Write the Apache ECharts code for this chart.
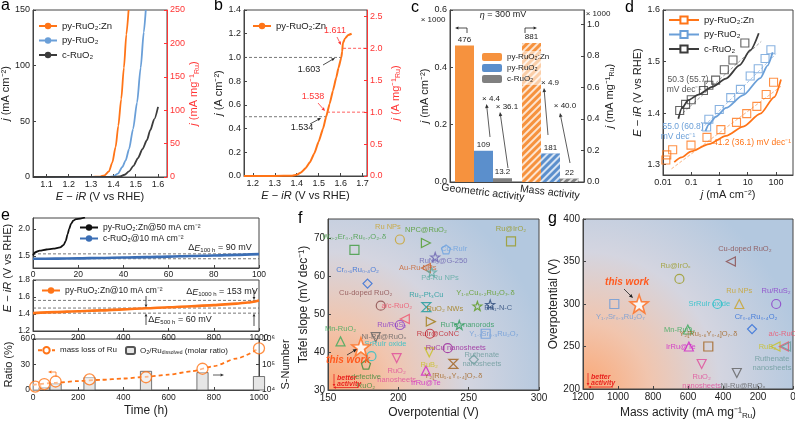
<!DOCTYPE html>
<html>
<head>
<meta charset="utf-8">
<title>py-RuO2:Zn OER figure</title>
<script src="https://cdn.jsdelivr.net/npm/echarts@6.0.0/dist/echarts.min.js"></script>
<style>
  html, body { margin: 0; padding: 0; background: #fff; }
  #chart { width: 795px; height: 423px; }
</style>
</head>
<body>
<div id="chart"></div>
<script>
// ---------------- data ----------------

// a: LSV curves, E - iR (V vs RHE) vs j (mA cm-2)
const aZnE = [1.04, 1.30, 1.34, 1.36, 1.38, 1.395, 1.41, 1.422, 1.435, 1.447, 1.458, 1.468];
const aZnJ = [0, 0.1, 0.4, 1.5, 5, 13, 27, 46, 70, 98, 128, 150];
const aPyE = [1.04, 1.38, 1.40, 1.42, 1.44, 1.455, 1.47, 1.488, 1.506, 1.522, 1.536, 1.545];
const aPyJ = [0, 0.1, 0.5, 3, 9, 15, 25, 43, 67, 98, 130, 150];
const aCE = [1.04, 1.40, 1.43, 1.45, 1.47, 1.49, 1.51, 1.53, 1.55, 1.565, 1.583, 1.60];
const aCJ = [0, 0.05, 0.5, 2, 5, 10, 17, 25, 33, 42, 52, 63];

// b: high current LSV of py-RuO2:Zn, j in A cm-2
const bE = [1.16, 1.30, 1.38, 1.40, 1.42, 1.44, 1.46, 1.48, 1.50, 1.52, 1.534, 1.55, 1.565, 1.58, 1.59, 1.603, 1.607, 1.61, 1.62, 1.635, 1.65];
const bJ = [0, 0, 0.003, 0.01, 0.03, 0.065, 0.115, 0.19, 0.29, 0.40, 0.5, 0.61, 0.72, 0.83, 0.91, 1.0, 1.05, 1.12, 1.16, 1.19, 1.2];
const bMarks = ['1.611', '1.603', '1.538', '1.534'];

// c: activity at eta = 300 mV (x1000)
const cGroups = ['Geometric activity', 'Mass activity'];
const cCatalysts = ['py-RuO₂:Zn', 'py-RuO₂', 'c-RuO₂'];
const cGeo = [476, 109, 13.2];
const cMass = [881, 181, 22];
const cFold = ['× 4.4', '× 36.1', '× 4.9', '× 40.0'];

// d: Tafel plots, j (mA cm-2) vs E
const dZnJ = [0.0126, 0.0136, 0.022, 0.098, 0.36, 1.12, 4.0, 9.2, 21, 45, 82];
const dZnE = [1.309, 1.319, 1.329, 1.338, 1.353, 1.368, 1.382, 1.399, 1.413, 1.436, 1.46];
const dPyJ = [0.35, 0.42, 0.98, 2.5, 5.5, 12.2, 23.5, 41, 66];
const dPyE = [1.373, 1.388, 1.407, 1.430, 1.446, 1.472, 1.486, 1.506, 1.523];
const dCJ = [0.039, 0.063, 0.10, 0.27, 0.42, 0.73, 1.48, 3.0, 7.9];
const dCE = [1.405, 1.417, 1.426, 1.444, 1.454, 1.464, 1.484, 1.503, 1.536];
const dZnFitJ = [0.025, 0.045, 0.1, 0.42, 1.7, 6.9, 28, 87, 150];
const dZnFitE = [1.305, 1.314, 1.326, 1.340, 1.356, 1.374, 1.399, 1.431, 1.465];
const dPyFitJ = [0.32, 0.42, 0.74, 1.7, 6.9, 28, 50, 76];
const dPyFitE = [1.365, 1.378, 1.393, 1.41, 1.435, 1.468, 1.492, 1.518];
const dCFitJ = [0.035, 0.047, 0.078, 0.18, 0.55, 1.7, 5.2, 12.3, 24.5];
const dCFitE = [1.389, 1.41, 1.425, 1.436, 1.451, 1.467, 1.493, 1.522, 1.555];
const dZnTafJ = [0.02, 150], dZnTafE = [1.292, 1.452];
const dPyTafJ = [0.3, 100], dPyTafE = [1.376, 1.515];
const dCTafJ = [0.05, 30], dCTafE = [1.40, 1.539];
const dSlopes = ['50.3 (55.7)', '55.0 (60.8)', '41.2 (36.1)'];

// e: stability, time (h) vs E
const e1ZnT = [0, 1, 3, 6, 9, 12, 13.5, 14.5, 15.3, 16, 16.8, 17.8, 19, 21, 23];
const e1ZnE = [1.51, 1.57, 1.60, 1.62, 1.635, 1.66, 1.70, 1.78, 1.90, 2.0, 2.09, 2.15, 2.18, 2.19, 2.21];
const e1CT = [0, 10, 20, 30, 40, 50, 60, 70, 80, 90, 100];
const e1CE = [1.45, 1.452, 1.458, 1.465, 1.472, 1.48, 1.49, 1.50, 1.51, 1.522, 1.535];
const e1Guides = [1.45, 1.54];
const e2T = [0, 100, 200, 300, 400, 500, 600, 700, 800, 900, 950, 1000];
const e2E = [1.41, 1.422, 1.433, 1.443, 1.455, 1.468, 1.48, 1.492, 1.505, 1.522, 1.535, 1.56];
const e2Guides = [1.41, 1.47, 1.56];
// e bottom: Ru mass loss (%) and S-number
const e3CircT = [10, 50, 100, 250, 500, 750, 1000];
const e3CircR = [4, 7, 10, 12.5, 15, 25, 49];
const e3FitT = [0, 100, 200, 300, 400, 500, 600, 700, 800, 900, 1000];
const e3FitR = [6, 8.5, 10.5, 12, 13.5, 15.5, 18, 22, 28, 37, 49];
const e3BarT = [50, 100, 250, 500, 750, 1000];
const e3BarS = [12600, 18000, 31600, 56000, 50000, 35000];

// f: Tafel slope vs overpotential (literature)
const fNames = ['Ru NPs', 'W₀.₂Er₀.₁Ru₀.₇O₂₋δ', 'NPC@RuO₂', 'Ru@IrO₂', 'Co-RuIr', 'RuNi₂@G-250', 'Au-Ru NPs', 'Pd-Ru NPs',
  'Cr₀.₆Ru₀.₄O₂', 'Cu-doped RuO₂', 'Ru₁-Pt₃Cu', 'Y₁.₈Cu₀.₂Ru₂O₇₋δ', 'Ru₁-N-C', 'a/c-RuO₂', 'Ru/RuS₂', 'RuO₂ NWs',
  'RuTe₂ nanorods', 'Mn-RuO₂', 'Ni-Ru@RuOₓ', 'RuIr@CoNC', 'Y₁.₇Sr₀.₃Ru₂O₇', 'SrRuIr oxide', 'RuO₂\nnanosheets', 'RuB₂',
  'RuCu nanosheets', 'Ruthenate\nnanosheets', 'Y₂[Ru₁.₆Y₀.₄]O₇₋δ', 'defective\nRuO₂', 'IrRu@Te'];
const fEta = [201.1, 168.8, 219.6, 280.1, 233.9, 226.2, 219.6, 223.8, 178.1, 187.5, 219.9, 256.2, 265.3, 204.6, 201.1, 223.1,
  243.3, 158.9, 183.9, 222.4, 262.1, 180.9, 198.8, 222.0, 235.1, 253.6, 239.1, 177.0, 219.6];
const fTafel = [69.6, 66.9, 68.7, 69.1, 67.0, 65.0, 62.1, 61.0, 58.0, 52.2, 51.8, 52.1, 52.5, 48.7, 47.1, 48.0,
  47.1, 42.8, 43.9, 44.8, 44.8, 38.9, 38.4, 39.9, 41.0, 38.0, 36.9, 36.7, 35.1];
const fThisWork = [173.4, 41.3];

// g: overpotential vs mass activity (literature)
const gNames = ['Cu-doped RuO₂', 'Ru@IrOₓ', 'Y₁.₇Sr₀.₃Ru₂O₇', 'SrRuIr oxide', 'Ru NPs', 'Ru/RuS₂', 'Mn-RuO₂', 'Cr₀.₆Ru₀.₄O₂',
  'Y₂[Ru₁.₆Y₀.₄]O₇₋δ', 'IrRu@Te', 'RuB₂', 'a/c-RuO₂', 'Ruthenate\nnanosheets', 'RuO₂\nnanosheets', 'Ni-Ru@RuOₓ'];
const gMass = [355, 649, 1021, 432, 307, 96, 601, 234, 484, 595, 100, 52, 40, 522, 321];
const gEta = [350, 329.5, 300, 300, 300, 300, 270, 270.5, 250, 250, 250, 250, 250, 229.4, 218.8];
const gThisWork = [879, 300];

// ---------------- styles ----------------
const FONT = '"Liberation Sans", Arial, Helvetica, sans-serif';
const ORANGE = '#ff7417', BLUE = '#6a9fd8', DARK = '#3c3c3c', RED = '#ff3535';
const C_OR = '#f6923e', C_BL = '#5b8fcc', C_GR = '#808080';

const STAR = 'path://M0,-10L2.4,-3.3L9.5,-3.1L3.8,1.3L5.9,8.1L0,4.1L-5.9,8.1L-3.8,1.3L-9.5,-3.1L-2.4,-3.3Z';
const PENT = 'path://M0,-10L9.5,-3.1L5.9,8.1L-5.9,8.1L-9.5,-3.1Z';
const HOUR = 'path://M-8,-8L8,-8L-8,8L8,8Z';
const SYM = { c: 'circle', s: 'rect', t: 'triangle', r: 'triangle', l: 'triangle', v: 'triangle', d: 'diamond', p: PENT, S: STAR, h: HOUR };
const ROT = { r: -90, l: 90, v: 180 };

const fSym = ['c', 's', 'r', 's', 'p', 'S', 'l', 'S', 'd', 'c', 'h', 'S', 'S', 'l', 'c', 'r', 'S', 't', 'v', 'c', 's', 'c', 'v', 'v', 'c', 'd', 'h', 'p', 't'];
const fCol = ['#c9a227', '#3c9a3c', '#4c9a24', '#9a9a20', '#6aa0e0', '#6a62b0', '#c8602a', '#5aaaa0', '#2a6ad8', '#8a4a4a',
  '#1a9a9a', '#5a9a1a', '#2a4a7a', '#f0506a', '#8a3ac8', '#a07a10', '#2a9a5a', '#3aaa5a', '#606060', '#c0202a',
  '#6a9ad8', '#20c0c8', '#e04a9a', '#c8c020', '#9a209a', '#6a9a9a', '#a0601a', '#3a8a3a', '#d020c8'];
const fPos = ['top', 'top', 'top', 'top', 'right', 'right', 'left', 'right', 'top', 'top', 'top', 'top', 'right', 'top', 'left', 'top',
  'right', 'top', 'right', 'right', 'right', 'top', 'bottom', 'bottom', 'right', 'right', 'bottom', 'bottom', 'bottom'];
const fOff = { 0: [-12, 0], 5: [0, 4], 7: [0, 6], 8: [-10, -1], 9: [-15, 0], 11: [8, 0], 12: [0, 3], 13: [-8, 0], 15: [14, 0], 21: [14, 0] };

const gSym = ['l', 'c', 's', 'c', 't', 'c', 't', 'd', 's', 't', 'l', 'l', 'l', 'v', 'v'];
const gCol = ['#8a4a4a', '#9a9a20', '#6a9ad8', '#20c0c8', '#c9a227', '#8a3ac8', '#3aaa5a', '#2a6ad8', '#a0601a', '#d020c8',
  '#c8c020', '#f0506a', '#6a9a9a', '#e04a9a', '#606060'];
const gPos = ['top', 'top', 'bottom', 'left', 'top', 'top', 'left', 'top', 'top', 'left', 'left', 'top', 'bottom', 'bottom', 'bottom'];
const gOff = { 0: [14, 0], 1: [-4, 0], 2: [6, 0], 7: [4, 0], 12: [-14, 0], 14: [6, 0] };

function rich(size, color) {
  return {
    n: { fontSize: size, fontFamily: FONT, color: color, fill: color },
    i: { fontSize: size, fontFamily: FONT, fontStyle: 'italic', color: color, fill: color },
    s: { fontSize: Math.round(size * 0.65), fontFamily: FONT, color: color, fill: color, padding: [Math.round(size * 0.5), 0, 0, 0] }
  };
}
const zip = (xs, ys) => xs.map((x, i) => [x, ys[i]]);
const fx1 = v => (+v).toFixed(1);
const plain = v => String(Math.round(v * 1000) / 1000);

function axis(grid, o) {
  const lc = o.lineColor || '#444';
  const tc = o.textColor || '#222';
  const ax = {
    type: o.type || 'value', gridIndex: grid, min: o.min, max: o.max, inverse: !!o.inverse,
    axisLine: { show: true, onZero: false, lineStyle: { color: lc, width: 1 } },
    axisTick: { show: o.ticks !== false, inside: true, length: 3, lineStyle: { color: lc } },
    axisLabel: { color: tc, fontSize: o.size || 9, fontFamily: FONT, margin: o.margin == null ? 3 : o.margin, formatter: o.fmt || plain },
    splitLine: { show: false },
    name: o.name || '', nameLocation: 'middle', nameGap: o.gap || 20,
    nameTextStyle: { color: tc, fontSize: o.nameSize || 11, fontFamily: FONT, rich: rich(o.nameSize || 11, tc) }
  };
  if (o.position) ax.position = o.position;
  if (o.interval != null) ax.interval = o.interval;
  if (o.custom) { ax.axisLabel.customValues = o.custom; ax.axisTick.customValues = o.custom; }
  if (o.hideMax) ax.axisLabel.showMaxLabel = false;
  if (o.data) { ax.data = o.data; delete ax.axisLabel.formatter; }
  if (o.label) Object.assign(ax.axisLabel, o.label);
  if (o.hidden) ax.show = false;
  return ax;
}

function curve(name, xi, yi, data, color, width, extra) {
  return Object.assign({
    type: 'line', name: name, xAxisIndex: xi, yAxisIndex: yi, data: data,
    symbol: 'none', smooth: 0.25, smoothMonotone: 'x', z: 3, silent: true,
    lineStyle: { color: color, width: width || 1.8 }, itemStyle: { color: color }
  }, extra || {});
}
function guide(xi, yi, data, color, width) {
  return { type: 'line', xAxisIndex: xi, yAxisIndex: yi, data: data, symbol: 'none', z: 2, silent: true,
    lineStyle: { color: color || '#555', width: width || 0.8, type: [3, 2] } };
}
function points(xi, yi, names, xs, ys, sym, col, pos, off) {
  return {
    type: 'scatter', xAxisIndex: xi, yAxisIndex: yi, z: 4, silent: true,
    data: names.map((n, i) => ({
      name: n, value: [xs[i], ys[i]],
      symbol: SYM[sym[i]], symbolRotate: ROT[sym[i]] || 0, symbolSize: 9,
      itemStyle: { color: 'rgba(255,255,255,0)', borderColor: col[i], borderWidth: 1.2 },
      label: { show: true, formatter: '{b}', position: pos[i], offset: off[i] || [0, 0], distance: 3,
        color: col[i], fontSize: 7.5, fontFamily: FONT, lineHeight: 9, align: 'center' }
    }))
  };
}
function bgGrad() {
  return new echarts.graphic.RadialGradient(0, 1, 1.3, [
    { offset: 0, color: '#fba774' },
    { offset: 0.3, color: '#f1c5ae' },
    { offset: 0.62, color: '#d4d5e0' },
    { offset: 1, color: '#b3c8df' }
  ]);
}

// ---------------- grids & axes ----------------
const gridBase = { show: true, borderColor: '#444', borderWidth: 1, outerBoundsMode: 'none', containLabel: false };
const grid = [
  { left: 33, top: 10, width: 134, height: 167 },   // a
  { left: 244, top: 10, width: 123, height: 166 },  // b
  { left: 450, top: 10, width: 134, height: 172 },  // c
  { left: 663, top: 10, width: 130, height: 165 },  // d
  { left: 33, top: 218, width: 226, height: 50 },   // e top
  { left: 33, top: 280, width: 226, height: 51 },   // e middle
  { left: 33, top: 339, width: 226, height: 51 },   // e bottom
  { left: 328, top: 219, width: 211, height: 171, backgroundColor: bgGrad() }, // f
  { left: 583, top: 219, width: 210, height: 170, backgroundColor: bgGrad() }  // g
].map(g => Object.assign({}, gridBase, g));

const supDigits = { 4: '⁴', 5: '⁵', 6: '⁶' };
const xAxis = [
  axis(0, { min: 1.04, max: 1.64, custom: [1.1, 1.2, 1.3, 1.4, 1.5, 1.6], fmt: fx1, name: '{i|E} − {i|iR} (V vs RHE)', gap: 14 }),
  axis(1, { min: 1.16, max: 1.72, custom: [1.2, 1.3, 1.4, 1.5, 1.6, 1.7], fmt: fx1, name: '{i|E} − {i|iR} (V vs RHE)', gap: 14 }),
  axis(2, { type: 'category', data: cGroups, ticks: false, size: 10.5, margin: 5, label: { interval: 0, rotate: -7, align: 'center', verticalAlign: 'top' } }),
  Object.assign(axis(3, { type: 'log', min: 0.01, max: 400, hideMax: true, fmt: v => String(+(+v).toPrecision(2)), name: '{i|j} (mA cm⁻²)', gap: 14 }), { logBase: 10 }),
  axis(4, { min: 0, max: 100, interval: 20, size: 8.5, margin: 2 }),
  axis(5, { min: 0, max: 1000, interval: 200, size: 8.5, margin: 2 }),
  axis(6, { min: 0, max: 1000, interval: 200, size: 8.5, margin: 3, name: 'Time (h)', nameSize: 12, gap: 15 }),
  axis(7, { min: 150, max: 300, interval: 50, size: 10, name: 'Overpotential (V)', nameSize: 12, gap: 17 }),
  axis(8, { min: 0, max: 1200, interval: 200, inverse: true, size: 10, name: '{n|Mass activity (mA mg⁻¹}{s|Ru}{n|)}', nameSize: 12, gap: 17 }),
  // twin category axis of panel c, carries the mass-activity bars (right y axis)
  axis(2, { type: 'category', data: cGroups, hidden: true })
];
const yAxis = [
  axis(0, { min: 0, max: 150, interval: 50, name: '{i|j} (mA cm⁻²)', gap: 21 }),
  axis(0, { position: 'right', min: 0, max: 250, interval: 50, lineColor: RED, textColor: RED, name: '{i|j} (mA mg⁻¹{s|Ru})', gap: 18 }),
  axis(1, { min: 0, max: 1.4, interval: 0.2, fmt: fx1, name: '{i|j} (A cm⁻²)', gap: 19 }),
  axis(1, { position: 'right', min: 0, max: 2.6, interval: 0.5, hideMax: true, fmt: fx1, lineColor: RED, textColor: RED, name: '{i|j} (A mg⁻¹{s|Ru})', gap: 22 }),
  axis(2, { min: 0, max: 0.6, interval: 0.2, fmt: fx1, name: '{i|j} (mA cm⁻²)', gap: 17 }),
  axis(2, { position: 'right', min: 0, max: 1.09, custom: [0, 0.2, 0.4, 0.6, 0.8, 1.0], fmt: fx1, name: '{i|j} (mA mg⁻¹{s|Ru})', gap: 19 }),
  axis(3, { min: 1.28, max: 1.6, custom: [1.3, 1.4, 1.5, 1.6], fmt: fx1, name: '{i|E} − {i|iR} (V vs RHE)', gap: 20 }),
  axis(4, { min: 1.28, max: 2.2, custom: [1.5, 2.0], fmt: fx1, size: 8.5 }),
  axis(5, { min: 1.2, max: 1.8, interval: 0.2, fmt: fx1, size: 8.5 }),
  axis(6, { min: 0, max: 60, interval: 30, size: 8.5, name: 'Ratio (%)', gap: 19 }),
  Object.assign(axis(6, { type: 'log', position: 'right', min: 1e4, max: 1e6, size: 8.5,
    fmt: v => '10' + supDigits[Math.round(Math.log10(v))], name: 'S-Number', gap: 21 }), { logBase: 10 }),
  axis(7, { min: 30, max: 75, interval: 10, hideMax: true, size: 10, name: 'Tafel slope (mV dec⁻¹)', nameSize: 12, gap: 17 }),
  axis(8, { min: 200, max: 400, interval: 50, size: 10, name: 'Overpotential (V)', nameSize: 12, gap: 22 })
];

// ---------------- series ----------------
const series = [];
// a
series.push(curve('py-RuO₂:Zn', 0, 0, zip(aZnE, aZnJ), ORANGE));
series.push(curve('py-RuO₂', 0, 0, zip(aPyE, aPyJ), BLUE));
series.push(curve('c-RuO₂', 0, 0, zip(aCE, aCJ), DARK));
// b
series.push(curve('py-RuO₂:Zn ', 1, 2, zip(bE, bJ), ORANGE, 2, { smooth: 0.15 }));
series.push(guide(1, 2, [[1.16, 0.5], [1.534, 0.5]], '#555'));
series.push(guide(1, 2, [[1.16, 1.0], [1.603, 1.0]], '#555'));
series.push(guide(1, 3, [[1.538, 1.0], [1.72, 1.0]], RED));
series.push(guide(1, 3, [[1.611, 2.0], [1.72, 2.0]], RED));
// c
const cColors = [C_OR, C_BL, C_GR];
cCatalysts.forEach((n, k) => {
  const lab = { show: true, position: 'top', distance: 2, fontSize: 8, color: '#222', fontFamily: FONT };
  series.push({ type: 'bar', name: n + '  ', xAxisIndex: 2, yAxisIndex: 4, barWidth: 19, barGap: '0%',
    data: [cGeo[k] / 1000, '-'], itemStyle: { color: cColors[k] }, silent: true,
    label: Object.assign({ formatter: String(cGeo[k]) }, lab) });
  series.push({ type: 'bar', name: n + '  ', xAxisIndex: 9, yAxisIndex: 5, barWidth: 19, barGap: '0%',
    data: ['-', cMass[k] / 1000], silent: true,
    itemStyle: { color: cColors[k], decal: { symbol: 'rect', symbolSize: 1, color: 'rgba(255,255,255,0.75)',
      dashArrayX: [1, 0], dashArrayY: [2, 3], rotation: -Math.PI / 4 } },
    label: Object.assign({ formatter: String(cMass[k]) }, lab) });
});
// d
[['py-RuO₂:Zn   ', dZnFitJ, dZnFitE, dZnJ, dZnE, dZnTafJ, dZnTafE, ORANGE, '#f9b483'],
 ['py-RuO₂   ', dPyFitJ, dPyFitE, dPyJ, dPyE, dPyTafJ, dPyTafE, BLUE, '#a9c7ea'],
 ['c-RuO₂   ', dCFitJ, dCFitE, dCJ, dCE, dCTafJ, dCTafE, DARK, '#a0a0a0']].forEach(s => {
  series.push(curve(s[0], 3, 6, zip(s[1], s[2]), s[7], 1.8, {
    symbol: 'rect', symbolSize: 8, showSymbol: false,
    itemStyle: { color: '#fff', borderColor: s[7], borderWidth: 1.2 } }));
  series.push({ type: 'scatter', name: s[0], xAxisIndex: 3, yAxisIndex: 6, data: zip(s[3], s[4]), symbol: 'rect', symbolSize: 8,
    itemStyle: { color: 'rgba(255,255,255,0)', borderColor: s[7], borderWidth: 1.1 }, z: 4, silent: true });
  series.push(guide(3, 6, zip(s[5], s[6]), s[8], 1));
});
// e top
series.push(curve('py-RuO₂:Zn@50 mA cm⁻²', 4, 7, zip(e1ZnT, e1ZnE), '#111', 1.8));
series.push(curve('c-RuO₂@10 mA cm⁻²', 4, 7, zip(e1CT, e1CE), '#3b6eb5', 2.6));
e1Guides.forEach(v => series.push(guide(4, 7, [[0, v], [100, v]], '#555')));
// e middle
series.push(curve('py-RuO₂:Zn@10 mA cm⁻²', 5, 8, zip(e2T, e2E), ORANGE, 2.6));
e2Guides.forEach(v => series.push(guide(5, 8, [[0, v], [1000, v]], '#555')));
// e bottom
series.push(curve('mass loss of Ru', 6, 9, zip(e3FitT, e3FitR), ORANGE, 1.8, {
  symbol: 'circle', symbolSize: 9, showSymbol: false, lineStyle: { color: ORANGE, width: 1.8, type: [4, 3] },
  itemStyle: { color: '#fff', borderColor: ORANGE, borderWidth: 1.3 } }));
series.push({ type: 'scatter', name: 'mass loss of Ru', xAxisIndex: 6, yAxisIndex: 9, data: zip(e3CircT, e3CircR), symbol: 'circle',
  symbolSize: 11, itemStyle: { color: 'rgba(255,255,255,0.6)', borderColor: ORANGE, borderWidth: 1.3 }, z: 4, silent: true });
series.push({ type: 'bar', name: 'O₂/Ru dissolved (molar ratio)', xAxisIndex: 6, yAxisIndex: 10, data: zip(e3BarT, e3BarS),
  barWidth: 12, itemStyle: { color: '#e6e6e6', borderColor: '#555', borderWidth: 0.8 }, z: 1, silent: true });
// f
series.push(points(7, 11, fNames, fEta, fTafel, fSym, fCol, fPos, fOff));
series.push({ type: 'scatter', xAxisIndex: 7, yAxisIndex: 11, data: [fThisWork], symbol: STAR, symbolSize: 18, z: 5, silent: true,
  itemStyle: { color: '#fff', borderColor: '#ff6a1a', borderWidth: 1.6 } });
// g
series.push(points(8, 12, gNames, gMass, gEta, gSym, gCol, gPos, gOff));
series.push({ type: 'scatter', xAxisIndex: 8, yAxisIndex: 12, data: [gThisWork], symbol: STAR, symbolSize: 18, z: 5, silent: true,
  itemStyle: { color: '#fff', borderColor: '#ff6a1a', borderWidth: 1.6 } });

// ---------------- legends ----------------
const legBase = { orient: 'vertical', selectedMode: false, padding: 0, itemWidth: 18, itemHeight: 8, itemGap: 4.5,
  textStyle: { fontSize: 9.5, fontFamily: FONT, color: '#222' } };
const legend = [
  { data: ['py-RuO₂:Zn', 'py-RuO₂', 'c-RuO₂'], left: 38, top: 21 },
  { data: ['py-RuO₂:Zn '], left: 252, top: 21 },
  { data: ['py-RuO₂:Zn  ', 'py-RuO₂  ', 'c-RuO₂  '], left: 479, top: 51, itemWidth: 20, itemGap: 3,
    backgroundColor: 'rgba(255,255,255,0.55)', padding: [2, 3], textStyle: { fontSize: 8, fontFamily: FONT, color: '#222' } },
  { data: ['py-RuO₂:Zn   ', 'py-RuO₂   ', 'c-RuO₂   '], left: 668, top: 15, itemWidth: 30, itemHeight: 9, itemGap: 4.5 },
  { data: ['py-RuO₂:Zn@50 mA cm⁻²', 'c-RuO₂@10 mA cm⁻²'], left: 79, top: 223, itemGap: 2, textStyle: { fontSize: 8.5, fontFamily: FONT, color: '#222' } },
  { data: ['py-RuO₂:Zn@10 mA cm⁻²'], left: 41, top: 286, textStyle: { fontSize: 8.5, fontFamily: FONT, color: '#222' } },
  { data: ['mass loss of Ru'], left: 37, top: 346, itemWidth: 17, itemGap: 3, textStyle: { fontSize: 8, fontFamily: FONT, color: '#222' } },
  { data: ['O₂/Ru dissolved (molar ratio)'], left: 125, top: 346, itemWidth: 9, itemHeight: 7,
    formatter: () => '{n|O₂/Ru}{s|dissolved}{n| (molar ratio)}',
    textStyle: { fontSize: 8, fontFamily: FONT, color: '#222', rich: rich(8, '#222') } }
].map(l => Object.assign({}, legBase, l));

// ---------------- annotations ----------------
const G = [];
function T(x, y, text, size, color, o) {
  o = o || {};
  const c = color || '#222';
  G.push({ type: 'text', x: x, y: y, rotation: o.rot || 0, silent: true, z: 100,
    style: { text: text, fontSize: size, fontFamily: FONT, fill: c,
      fontStyle: o.italic ? 'italic' : 'normal', fontWeight: o.bold ? 'bold' : 'normal',
      align: o.align || 'center', verticalAlign: o.va || 'middle', rich: rich(size, c) } });
}
function L(x1, y1, x2, y2, color, w) {
  G.push({ type: 'line', silent: true, z: 100, shape: { x1: x1, y1: y1, x2: x2, y2: y2 }, style: { stroke: color, lineWidth: w || 0.8 } });
}
function ARW(x1, y1, x2, y2, color, h) {
  h = h || 4;
  const a = Math.atan2(y2 - y1, x2 - x1);
  const bx = x2 - h * Math.cos(a), by = y2 - h * Math.sin(a);
  const px = -Math.sin(a) * h * 0.45, py = Math.cos(a) * h * 0.45;
  L(x1, y1, bx, by, color, 0.8);
  G.push({ type: 'polygon', silent: true, z: 100, shape: { points: [[x2, y2], [bx + px, by + py], [bx - px, by - py]] }, style: { fill: color } });
}

// panel letters
[['a', 1, -2], ['b', 214, -2], ['c', 411, 0], ['d', 625, 0], ['e', 1, 208], ['f', 298, 211], ['g', 548, 211]]
  .forEach(p => T(p[1], p[2], p[0], 16, '#000', { align: 'left', va: 'top' }));

// b
T(335, 31, bMarks[0], 9, RED); ARW(337, 37, 341, 45, RED, 3.5);
T(309, 70, bMarks[1], 9, '#222'); ARW(323, 65, 335, 58, '#222', 3.5);
T(313, 97, bMarks[2], 9, RED); ARW(318, 103, 325, 111, RED, 3.5);
T(302, 128, bMarks[3], 9, '#222'); ARW(310, 124, 321, 118, '#222', 3.5);

// c
T(433, 20, '× 1000', 8);
T(598, 14, '× 1000', 8);
T(503, 15, '{i|η} = 300 mV', 9);
ARW(467, 28, 455, 28, '#222', 3.5); L(467, 28, 467, 33, '#222');
ARW(525, 28, 537, 28, '#222', 3.5); L(525, 28, 525, 33, '#222');
T(491, 99, cFold[0], 8); ARW(490, 137, 486.5, 104, '#333', 4);
T(507, 107, cFold[1], 8); ARW(508, 168, 500, 112, '#333', 4);
T(550, 83, cFold[2], 8); ARW(548, 135, 544, 88, '#333', 4);
T(565, 106, cFold[3], 8); ARW(570, 163, 560, 113, '#333', 4);

// d
T(688, 80, dSlopes[0], 8.5, '#555'); T(684, 90, 'mV dec⁻¹', 8.5, '#555');
T(683, 127, dSlopes[1], 8.5, BLUE); T(678, 137, 'mV dec⁻¹', 8.5, BLUE);
T(752, 143, dSlopes[2] + ' mV dec⁻¹', 8.5, ORANGE);

// e
T(8, 268, '{i|E} − {i|iR} (V vs RHE)', 11, '#222', { rot: Math.PI / 2 });
T(220, 248, 'Δ{i|E}{s|100 h} = 90 mV', 9);
T(222, 292, 'Δ{i|E}{s|1000 h} = 153 mV', 9);
T(180, 320, 'Δ{i|E}{s|500 h} = 60 mV', 9);
ARW(146, 296, 146, 307.5, '#222', 3); ARW(146, 325, 146, 313.5, '#222', 3);
ARW(254, 290, 254, 300, '#222', 3); ARW(254, 326, 254, 313.5, '#222', 3);
ARW(56, 372, 48, 372, ORANGE, 3.5); L(56, 372, 56, 377, ORANGE);
ARW(213, 375, 224, 375, '#333', 3.5);

// f
T(348, 360, 'this work', 10, '#ff5a1f', { italic: true, bold: true });
ARW(347, 355, 357, 349, '#222', 4);
T(337, 378, 'better', 7, '#e8231f', { italic: true, bold: true, align: 'left' });
T(337, 384, 'activity', 7, '#e8231f', { italic: true, bold: true, align: 'left' });
ARW(334, 374, 334, 387, '#e8231f', 3); ARW(358, 387.5, 333, 387.5, '#e8231f', 3);

// g
T(627, 282, 'this work', 10, '#ff5a1f', { italic: true, bold: true });
ARW(624, 289, 633, 298, '#222', 4);
T(591, 377, 'better', 7, '#e8231f', { italic: true, bold: true, align: 'left' });
T(591, 383, 'activity', 7, '#e8231f', { italic: true, bold: true, align: 'left' });
ARW(588, 373, 588, 386, '#e8231f', 3); ARW(613, 387, 588, 387, '#e8231f', 3);

// ---------------- chart ----------------
const chart = echarts.init(document.getElementById('chart'), null, { renderer: 'canvas' });
chart.setOption({
  animation: false,
  backgroundColor: '#fff',
  textStyle: { fontFamily: FONT },
  grid: grid,
  xAxis: xAxis,
  yAxis: yAxis,
  legend: legend,
  series: series,
  graphic: G
});
</script>
</body>
</html>
